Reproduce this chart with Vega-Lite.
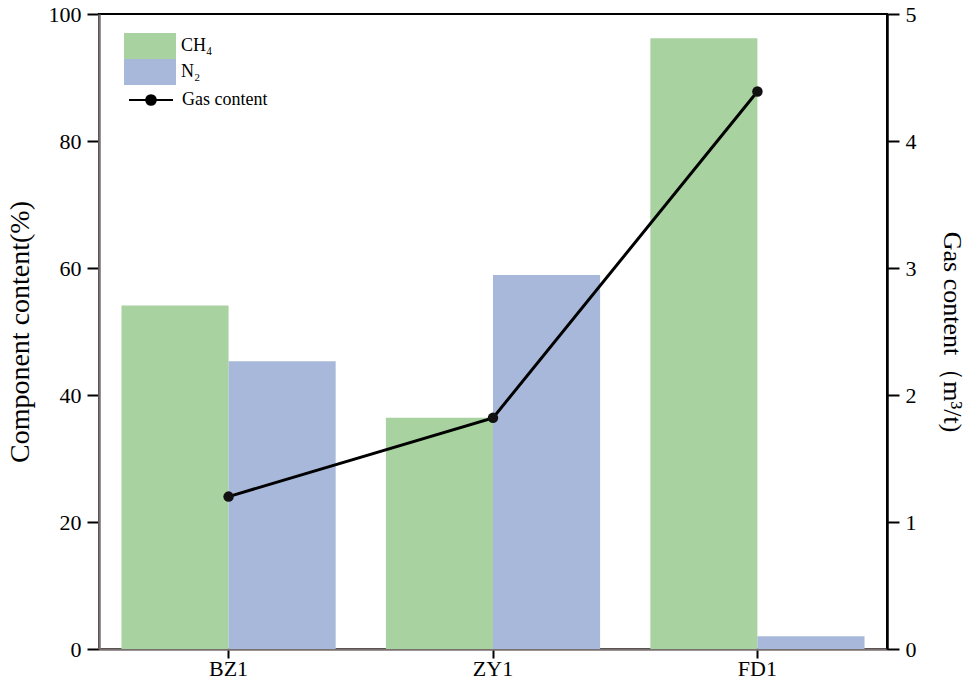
{
  "$schema": "https://vega.github.io/schema/vega-lite/v6.json",
  "autosize": "none",
  "width": 788,
  "height": 635,
  "padding": {"left": 99, "top": 14, "right": 93, "bottom": 46},
  "background": "white",
  "config": {
    "font": "'Liberation Serif', 'Times New Roman', 'DejaVu Serif', serif",
    "view": {"stroke": "#000000", "strokeWidth": 2},
    "axis": {"labelFont": "'Liberation Serif', 'Times New Roman', 'DejaVu Serif', serif", "titleFont": "'Liberation Serif', 'Times New Roman', 'DejaVu Serif', serif"},
    "legend": {"labelFont": "'Liberation Serif', 'Times New Roman', 'DejaVu Serif', serif", "titleFont": "'Liberation Serif', 'Times New Roman', 'DejaVu Serif', serif"}
  },
  "datasets": {
    "comp": [
      {"site": "BZ1", "gas": "CH₄", "value": 54.1},
      {"site": "BZ1", "gas": "N₂", "value": 45.3},
      {"site": "ZY1", "gas": "CH₄", "value": 36.4},
      {"site": "ZY1", "gas": "N₂", "value": 58.9},
      {"site": "FD1", "gas": "CH₄", "value": 96.2},
      {"site": "FD1", "gas": "N₂", "value": 2.0}
    ],
    "gc": [
      {"site": "BZ1", "series": "Gas content", "content": 1.20},
      {"site": "ZY1", "series": "Gas content", "content": 1.82},
      {"site": "FD1", "series": "Gas content", "content": 4.39}
    ]
  },
  "layer": [
    {
      "data": {"name": "comp"},
      "mark": {"type": "bar"},
      "encoding": {
        "x": {
          "field": "site", "type": "nominal", "sort": ["BZ1", "ZY1", "FD1"],
          "scale": {"paddingInner": 0.19, "paddingOuter": 0.085},
          "axis": {
            "title": null, "labelAngle": 0, "labelFontSize": 22, "labelColor": "#000",
            "labelPadding": 0, "domainColor": "#7a7070", "domainWidth": 2.5,
            "tickColor": "#000", "tickWidth": 2, "tickSize": 9
          }
        },
        "xOffset": {"field": "gas", "type": "nominal", "sort": ["CH₄", "N₂"], "scale": {"paddingInner": 0, "paddingOuter": 0}},
        "y": {
          "field": "value", "type": "quantitative",
          "scale": {"domain": [0, 100], "nice": false},
          "axis": {
            "title": "Component content(%)", "titleFontSize": 28, "titleFontWeight": "normal",
            "titleColor": "#000", "titlePadding": 14,
            "values": [0, 20, 40, 60, 80, 100], "grid": false,
            "labelFontSize": 22, "labelColor": "#000", "labelPadding": 6,
            "domainColor": "#7a7070", "domainWidth": 2.5,
            "tickColor": "#000", "tickWidth": 2, "tickSize": 12
          }
        },
        "color": {
          "field": "gas", "type": "nominal", "sort": ["CH₄", "N₂"],
          "scale": {"domain": ["CH₄", "N₂"], "range": ["#a8d3a0", "#a8b8da"]},
          "legend": {
            "title": null, "orient": "none", "legendX": 38, "legendY": 19,
            "symbolType": "M-2,-1H2V1H-2Z", "symbolSize": 676,
            "symbolStrokeWidth": 0, "symbolOpacity": 1,
            "rowPadding": 0, "labelFontSize": 18, "labelColor": "#000",
            "labelOffset": 18, "padding": 0
          }
        }
      }
    },
    {
      "data": {"name": "gc"},
      "mark": {"type": "line", "color": "#000", "strokeWidth": 3},
      "encoding": {
        "x": {"field": "site", "type": "nominal", "sort": ["BZ1", "ZY1", "FD1"]},
        "y": {
          "field": "content", "type": "quantitative",
          "scale": {"domain": [0, 5], "nice": false},
          "axis": {
            "orient": "right", "title": "Gas content（m³/t)", "titleFontSize": 26,
            "titleFontWeight": "normal", "titleColor": "#000", "titlePadding": 22,
            "values": [0, 1, 2, 3, 4, 5], "grid": false,
            "labelFontSize": 22, "labelColor": "#000", "labelPadding": 6,
            "domainColor": "#000", "domainWidth": 2.5,
            "tickColor": "#000", "tickWidth": 2, "tickSize": 12
          }
        },
        "stroke": {
          "field": "series", "type": "nominal",
          "scale": {"domain": ["Gas content"], "range": ["#000"]},
          "legend": {
            "title": null, "orient": "none", "legendX": 29, "legendY": 63,
            "symbolType": "M-1,0H1M-0.22,0A0.22,0.22 0 1,0 0.22,0A0.22,0.22 0 1,0 -0.22,0Z",
            "symbolSize": 1936, "symbolStrokeWidth": 2, "symbolFillColor": "#000",
            "symbolStrokeColor": "#000",
            "labelFontSize": 18, "labelColor": "#000", "labelOffset": 8, "padding": 0
          }
        }
      }
    },
    {
      "data": {"name": "gc"},
      "mark": {"type": "point", "filled": true, "color": "#111", "size": 110, "opacity": 1},
      "encoding": {
        "x": {"field": "site", "type": "nominal", "sort": ["BZ1", "ZY1", "FD1"]},
        "y": {"field": "content", "type": "quantitative", "scale": {"domain": [0, 5], "nice": false}, "axis": null}
      }
    }
  ],
  "resolve": {"scale": {"y": "independent", "color": "independent", "stroke": "independent"}}
}
